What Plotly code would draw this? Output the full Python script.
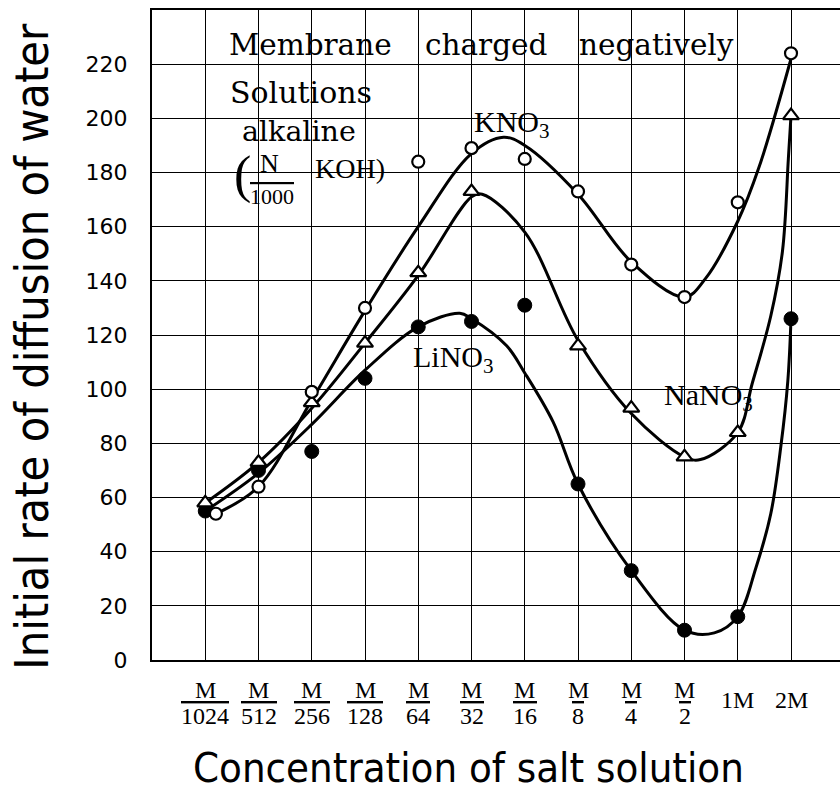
import plotly.graph_objects as go

# ---------------- data ----------------
tick_labels = ["M/1024", "M/512", "M/256", "M/128", "M/64", "M/32",
               "M/16", "M/8", "M/4", "M/2", "1M", "2M"]
cat_index = list(range(len(tick_labels)))
y_ticks = [0, 20, 40, 60, 80, 100, 120, 140, 160, 180, 200, 220]

# measured points
kno3_x = [0.2, 1, 2, 3, 4, 5, 6, 7, 8, 9, 10, 11]
kno3_y = [54, 64, 99, 130, 184, 189, 185, 173, 146, 134, 169, 224]
nano3_y = [58, 73, 95, 117, 143, 173, None, 116, 93, 75, 84, 201]
lino3_y = [55, 70, 77, 104, 123, 125, 131, 65, 33, 11, 16, 126]

# hand-drawn smooth curves
kno3_curve_x = [0.2, 1, 2, 3, 4, 5, 5.6, 6, 7, 8, 9, 9.4, 10, 10.4, 11]
kno3_curve_y = [54, 64, 96, 129, 160, 187, 193, 190, 172, 147, 134, 141, 162, 182, 222]

nano3_curve_x = [0, 1, 2, 3, 4, 5, 5.2, 6, 7, 8, 9, 9.3, 10, 10.27, 10.62, 10.84, 10.95, 11]
nano3_curve_y = [58, 73, 93, 117, 142, 171, 172, 158, 118, 91, 75, 74, 84, 102, 127, 151, 185, 201]

lino3_curve_x = [0, 1, 2, 3, 4, 4.78, 5, 5.66, 6, 6.53, 7, 8, 9, 9.56, 10,
                 10.34, 10.62, 10.81, 10.94, 11]
lino3_curve_y = [55, 69, 87, 107, 123, 128, 126, 116, 106, 88, 65, 33, 11, 10, 16,
                 34, 54, 79, 103, 126]

# ---------------- figure ----------------
SERIF = "DejaVu Serif"
TSERIF = "Liberation Serif"
NARROW = "DejaVu Sans Condensed, DejaVu Sans, sans-serif"

fig = go.Figure()

for cx, cy in [(kno3_curve_x, kno3_curve_y),
               (nano3_curve_x, nano3_curve_y),
               (lino3_curve_x, lino3_curve_y)]:
    fig.add_trace(go.Scatter(x=cx, y=cy, mode="lines",
                             line=dict(color="black", width=3, shape="spline", smoothing=1.0),
                             hoverinfo="skip", showlegend=False))

fig.add_trace(go.Scatter(x=cat_index, y=lino3_y, mode="markers", name="LiNO3",
                         marker=dict(symbol="circle", size=14, color="black",
                                     line=dict(color="black", width=1)),
                         showlegend=False))
fig.add_trace(go.Scatter(x=cat_index, y=nano3_y, mode="markers", name="NaNO3",
                         marker=dict(symbol="triangle-up", size=14, color="white",
                                     line=dict(color="black", width=2.2)),
                         showlegend=False))
fig.add_trace(go.Scatter(x=kno3_x, y=kno3_y, mode="markers", name="KNO3",
                         marker=dict(symbol="circle", size=12, color="white",
                                     line=dict(color="black", width=2.2)),
                         showlegend=False))

annotations = []

# x tick labels: fraction numerator over overlined denominator
for i, lab in enumerate(tick_labels):
    if "/" in lab:
        num, den = lab.split("/")
        annotations.append(dict(x=i, y=0, xref="x", yref="paper", text=num,
                                showarrow=False, yshift=-30, yanchor="middle",
                                font=dict(family=TSERIF, size=24, color="black")))
        annotations.append(dict(x=i, y=0, xref="x", yref="paper",
                                text=f'<span style="text-decoration:overline">{den}</span>',
                                showarrow=False, yshift=-56, yanchor="middle",
                                font=dict(family=TSERIF, size=24, color="black")))
    else:
        annotations.append(dict(x=i, y=0, xref="x", yref="paper", text=lab,
                                showarrow=False, yshift=-40, yanchor="middle",
                                font=dict(family=TSERIF, size=24, color="black")))

def txt(x, y, text, size, family=SERIF, xanchor="left"):
    annotations.append(dict(x=x, y=y, xref="x", yref="y", text=text, showarrow=False,
                            xanchor=xanchor, yanchor="middle",
                            font=dict(family=family, size=size, color="black")))

txt(0.41, 227, "Membrane", 29.5)
txt(4.09, 227, "charged", 29.5)
txt(6.99, 227, "negatively", 29.5)
txt(0.43, 209.4, "Solutions", 30)
txt(0.65, 195, "alkaline", 28.5)
txt(0.50, 179, "(", 52, TSERIF)
txt(1.20, 183.2, "N", 26, TSERIF, xanchor="center")
txt(1.26, 171.3, '<span style="text-decoration:overline">1000</span>', 22, TSERIF,
    xanchor="center")
txt(2.02, 181.3, "KOH)", 28, TSERIF)
txt(5.0, 198, "KNO<sub>3</sub>", 30, TSERIF)
txt(3.87, 111, "LiNO<sub>3</sub>", 30, TSERIF)
txt(8.58, 97, "NaNO<sub>3</sub>", 30, TSERIF)

# axis titles
annotations.append(dict(x=-0.175, y=0.483, xref="paper", yref="paper",
                        text="Initial rate of diffusion of water", showarrow=False,
                        textangle=-90, xanchor="center", yanchor="middle",
                        font=dict(family=NARROW, size=46.5, color="black")))
annotations.append(dict(x=0.46, y=-0.165, xref="paper", yref="paper",
                        text="Concentration of salt solution", showarrow=False,
                        xanchor="center", yanchor="middle",
                        font=dict(family=NARROW, size=41.5, color="black")))

fig.update_layout(
    width=840, height=797,
    margin=dict(l=152, r=0, t=10, b=137),
    paper_bgcolor="white", plot_bgcolor="white",
    annotations=annotations,
    showlegend=False,
)
fig.update_xaxes(range=[-1, 11.92], tickmode="array", tickvals=cat_index,
                 showticklabels=False,
                 showgrid=True, gridcolor="black", gridwidth=1.3, zeroline=False,
                 showline=True, mirror=True, linecolor="black", linewidth=2,
                 ticks="")
fig.update_yaxes(range=[0, 240], tickmode="array", tickvals=y_ticks,
                 showgrid=True, gridcolor="black", gridwidth=1.3, zeroline=False,
                 showline=True, mirror=False, linecolor="black", linewidth=2,
                 ticks="", ticklabelstandoff=18,
                 tickfont=dict(family="DejaVu Sans", size=22, color="black"))

fig.write_html("out.html")
